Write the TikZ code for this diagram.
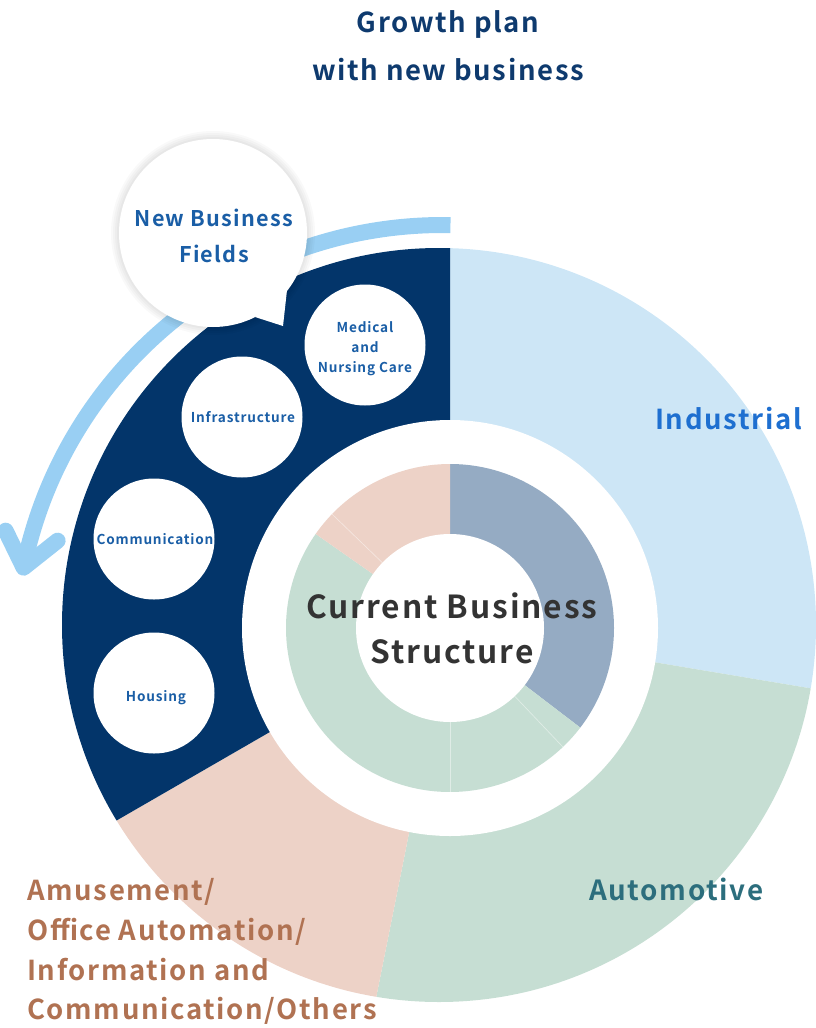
\documentclass[tikz,border=0pt]{standalone}
\usepackage{fontspec}
\setmainfont{Noto Sans CJK JP}[BoldFont=* Bold, LetterSpace=6]
\usetikzlibrary{calc}
\definecolor{navy}{HTML}{03356A}
\definecolor{indc}{HTML}{CDE6F6}
\definecolor{autoc}{HTML}{C6DED3}
\definecolor{amusc}{HTML}{EDD2C7}
\definecolor{inblue}{HTML}{95ABC3}
\definecolor{arrowc}{HTML}{99CFF3}
\definecolor{titlec}{HTML}{0E3A6E}
\definecolor{nbfc}{HTML}{1A5EA6}
\definecolor{indt}{HTML}{1E6FD0}
\definecolor{autot}{HTML}{2C6E7D}
\definecolor{amust}{HTML}{B07252}
\definecolor{centt}{HTML}{333333}
\newcommand\myfs[2]{\fontsize{#1}{#2}\selectfont}
\begin{document}
\begin{tikzpicture}[x=0.75pt,y=-0.75pt,
  wc/.style={circle, fill=white, minimum size=90.75pt, inner sep=0pt},
  ctext/.style={inner sep=0pt, align=center, text=nbfc, font=\bfseries\myfs{10.2pt}{15pt}},
  lbl/.style={inner sep=0pt, anchor=base west},
  seam/.style={white, opacity=0.45, line width=0.5pt},
  arr/.style={arrowc, line width=12pt}]
\useasboundingbox (0,0) rectangle (816,1028);
\coordinate (C) at (450,628);
% outer ring
\begin{scope}
  \clip (439,625) circle[radius=377];
  \fill[indc] (C) -- +(-90:700) arc[start angle=-90, end angle=9.5, radius=700] -- cycle;
  \fill[autoc] (C) -- +(9.5:700) arc[start angle=9.5, end angle=101.3, radius=700] -- cycle;
  \fill[amusc] (C) -- +(101.3:700) arc[start angle=101.3, end angle=150, radius=700] -- cycle;
  \fill[navy] (C) -- +(150:700) arc[start angle=150, end angle=270, radius=700] -- cycle;
\end{scope}
\fill[white] (C) circle[radius=208];
% inner donut
\fill[inblue] (C) -- +(-90:164) arc[start angle=-90, end angle=37.4, radius=164] -- cycle;
\fill[autoc] (C) -- +(37.4:164) arc[start angle=37.4, end angle=215, radius=164] -- cycle;
\fill[amusc] (C) -- +(215:164) arc[start angle=215, end angle=270, radius=164] -- cycle;
\draw[seam] ($(C)+(46.5:94)$) -- ($(C)+(46.5:164)$);
\draw[seam] ($(C)+(90:94)$) -- ($(C)+(90:164)$);
\draw[seam] ($(C)+(224:94)$) -- ($(C)+(224:164)$);
\fill[white] (C) circle[radius=94];
\node[inner sep=0pt, align=center, text=centt,
  font=\bfseries\myfs{23.8pt}{33.75pt}] (cur) at (452,628) {Current Business\\Structure};
% new business circles
\node[wc] (med) at (365,345) {};
\node[wc] (inf) at (242,417) {};
\node[wc] (com) at (154,539) {};
\node[wc] (hou) at (154,693) {};
\node[ctext] (medt) at (365,349) {Medical\\and\\Nursing Care};
\node[ctext, anchor=base] (inft) at (243,422) {Infrastructure};
\node[ctext, anchor=base] (comt) at (155,544) {Communication};
\node[ctext, anchor=base] (hout) at (156,701) {Housing};
% arrow
\coordinate (AC) at (443,653);
\draw[arr] (AC) ++(-89:428) arc[start angle=-89, end angle=-168.5, radius=428] coordinate (tip);
\draw[arr, line cap=round, line join=round] ($(tip)+(-18,-37)$) -- (tip) -- ($(tip)+(34,-27)$);
% bubble
\coordinate (B) at (213,233);
\foreach \w in {16,12,8,4}{
  \draw[black, opacity=0.022, line width=\w*0.75pt] (B) circle[radius=94];
}
\fill[white] (B) circle[radius=94];
\fill[white] (255,317) -- (287,290) -- (283,326) -- cycle;
\node[inner sep=0pt, align=center, text=nbfc,
  font=\bfseries\myfs{16.2pt}{27pt}] (nbf) at (214,236) {New Business\\Fields};
% titles
\node[inner sep=0pt, anchor=base, text=titlec, font=\bfseries\myfs{20.6pt}{24pt}] (t1) at (448,32) {Growth plan};
\node[inner sep=0pt, anchor=base, text=titlec, font=\bfseries\myfs{20.6pt}{24pt}] (t2) at (448,80) {with new business};
% segment labels
\node[lbl, text=indt, font=\bfseries\myfs{20.6pt}{26pt}] (ind) at (655,429) {Industrial};
\node[lbl, text=autot, font=\bfseries\myfs{20.8pt}{26pt}] (aut) at (589,900) {Automotive};
\node[lbl, text=amust, font=\bfseries\myfs{20.6pt}{26pt}] (am1) at (27,900) {Amusement/};
\node[lbl, text=amust, font=\bfseries\myfs{20.6pt}{26pt}] (am2) at (27,940) {Office Automation/};
\node[lbl, text=amust, font=\bfseries\myfs{20.6pt}{26pt}] (am3) at (27,980) {Information and};
\node[lbl, text=amust, font=\bfseries\myfs{20.6pt}{26pt}] (am4) at (27,1019) {Communication/Others};
\end{tikzpicture}
\end{document}
